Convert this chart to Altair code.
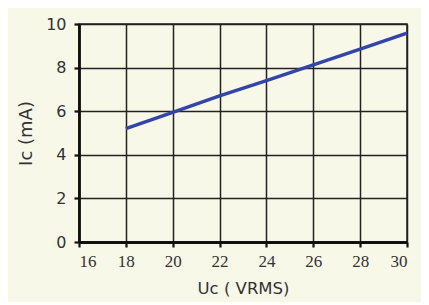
import altair as alt
import pandas as pd

uc = [18, 20, 22, 24, 26, 28, 30]
ic = [5.2, 5.95, 6.7, 7.4, 8.12, 8.85, 9.58]

df = pd.DataFrame({"Uc": uc, "Ic": ic})

chart = alt.Chart(df).mark_line(color="#3444A8", strokeWidth=3.4).encode(
    x=alt.X("Uc:Q", scale=alt.Scale(domain=[16, 30], nice=False, zero=False),
            axis=alt.Axis(title="Uc ( VRMS)", values=list(range(16, 31, 2)),
                          labelFont="Liberation Serif", labelFontSize=17,
                          labelColor="#333333", titleFont="DejaVu Sans",
                          titleFontSize=16.5, titleFontWeight="normal", titleColor="#333333",
                          titlePadding=11, labelPadding=6)),
    y=alt.Y("Ic:Q", scale=alt.Scale(domain=[0, 10], nice=False),
            axis=alt.Axis(title="Ic (mA)", values=list(range(0, 11, 2)),
                          labelFont="DejaVu Sans", labelFontSize=16,
                          labelColor="#333333", titleFont="DejaVu Sans",
                          titleFontSize=18, titleFontWeight="normal", titleColor="#333333",
                          titlePadding=10, labelPadding=8)),
).properties(
    width=328, height=218,
    background="#F8F8E9",
    padding={"left": 71, "top": 16, "right": 14, "bottom": 60},
    autosize=alt.AutoSizeParams(type="none"),
).configure_axis(
    domainColor="#111111", domainWidth=2.8,
    gridColor="#222222", gridWidth=1.5, gridOpacity=1,
    tickColor="#111111", tickWidth=2.2, tickSize=5,
).configure_view(stroke="#222222", strokeWidth=1.5)

chart.save("out.html", embed_options={"renderer": "svg", "actions": False})
